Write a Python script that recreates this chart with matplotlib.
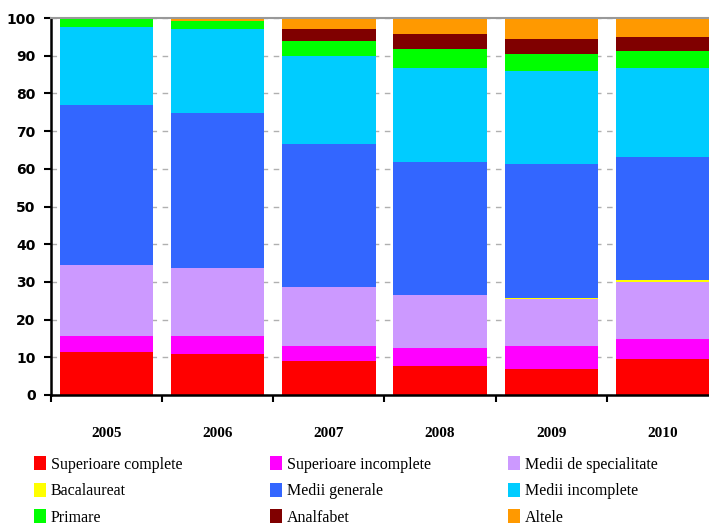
import matplotlib
matplotlib.use('Agg')
import matplotlib.pyplot as plt
import numpy as np

years = ["2005", "2006", "2007", "2008", "2009", "2010"]

labels = ["Superioare complete", "Superioare incomplete", "Medii de specialitate",
          "Bacalaureat", "Medii generale", "Medii incomplete",
          "Primare", "Analfabet", "Altele"]
colors = ["#FF0000", "#FF00FF", "#CC99FF", "#FFFF00", "#3366FF", "#00CCFF",
          "#00FF00", "#800000", "#FF9900"]

sup_complete = [11.5, 11.0, 8.9, 7.8, 7.0, 9.6]
sup_incomplete = [4.1, 4.6, 4.1, 4.6, 6.0, 5.3]
medii_spec = [18.8, 18.2, 15.6, 14.2, 12.5, 15.1]
bacalaureat = [0.0, 0.0, 0.0, 0.0, 0.3, 0.4]
medii_generale = [42.4, 41.1, 37.9, 35.3, 35.5, 32.8]
medii_incomplete = [20.9, 22.2, 23.3, 24.8, 24.6, 23.5]
primare = [2.3, 2.1, 4.0, 5.1, 4.6, 4.5]
analfabet = [0.0, 0.0, 3.2, 4.0, 3.9, 3.8]
altele = [0.0, 0.8, 3.0, 4.2, 5.6, 5.0]

series = [sup_complete, sup_incomplete, medii_spec, bacalaureat, medii_generale,
          medii_incomplete, primare, analfabet, altele]

fig = plt.figure(figsize=(7.09, 5.25), dpi=100)
ax = fig.add_axes([51 / 709, 130 / 525, 667 / 709, 377 / 525])

x = np.arange(len(years))
bottom = np.zeros(len(years))
bars = []
for vals, lab, col in zip(series, labels, colors):
    b = ax.bar(x, vals, 0.84, bottom=bottom, color=col, label=lab, zorder=2,
               linewidth=0)
    bars.append(b)
    bottom += np.array(vals)

ax.set_xlim(-0.5, len(years) - 0.5)
ax.set_ylim(0, 100)
ax.set_yticks(range(0, 101, 10))
ax.yaxis.grid(True, linestyle=(0, (4, 4)), color='#b0b0b0', linewidth=1, zorder=0)

ax.set_xticks(x)
ax.set_xticklabels(years, fontfamily='Liberation Serif', fontweight='bold', fontsize=11)
ax.set_xticks(np.arange(-0.5, len(years)), minor=True)
ax.tick_params(axis='x', which='major', length=0, pad=23)
ax.tick_params(axis='x', which='minor', length=5, width=1.5, direction='out')
ax.tick_params(axis='y', length=5, width=1.5, direction='out', pad=6)
for t in ax.get_yticklabels():
    t.set_fontfamily('DejaVu Sans')
    t.set_fontweight('bold')
    t.set_fontsize(10)

ax.spines['left'].set_linewidth(1.8)
ax.spines['bottom'].set_linewidth(1.8)
ax.spines['top'].set_color('#999999')
ax.spines['top'].set_linewidth(1.5)
ax.spines['right'].set_visible(False)

# legend in three columns, placed one column at a time
col_x = [34 / 709, 270 / 709, 508 / 709]
for c in range(3):
    hs = [bars[c + 3 * r] for r in range(3)]
    ls = [labels[c + 3 * r] for r in range(3)]
    fig.legend(hs, ls, loc='upper left', bbox_to_anchor=(col_x[c], 1 - 456 / 525),
               frameon=False, handlelength=0.75, handleheight=1.0, handletextpad=0.3,
               labelspacing=0.62, borderaxespad=0, borderpad=0,
               prop={'family': 'Liberation Serif', 'size': 11.5})

fig.savefig('out.png', dpi=100)
